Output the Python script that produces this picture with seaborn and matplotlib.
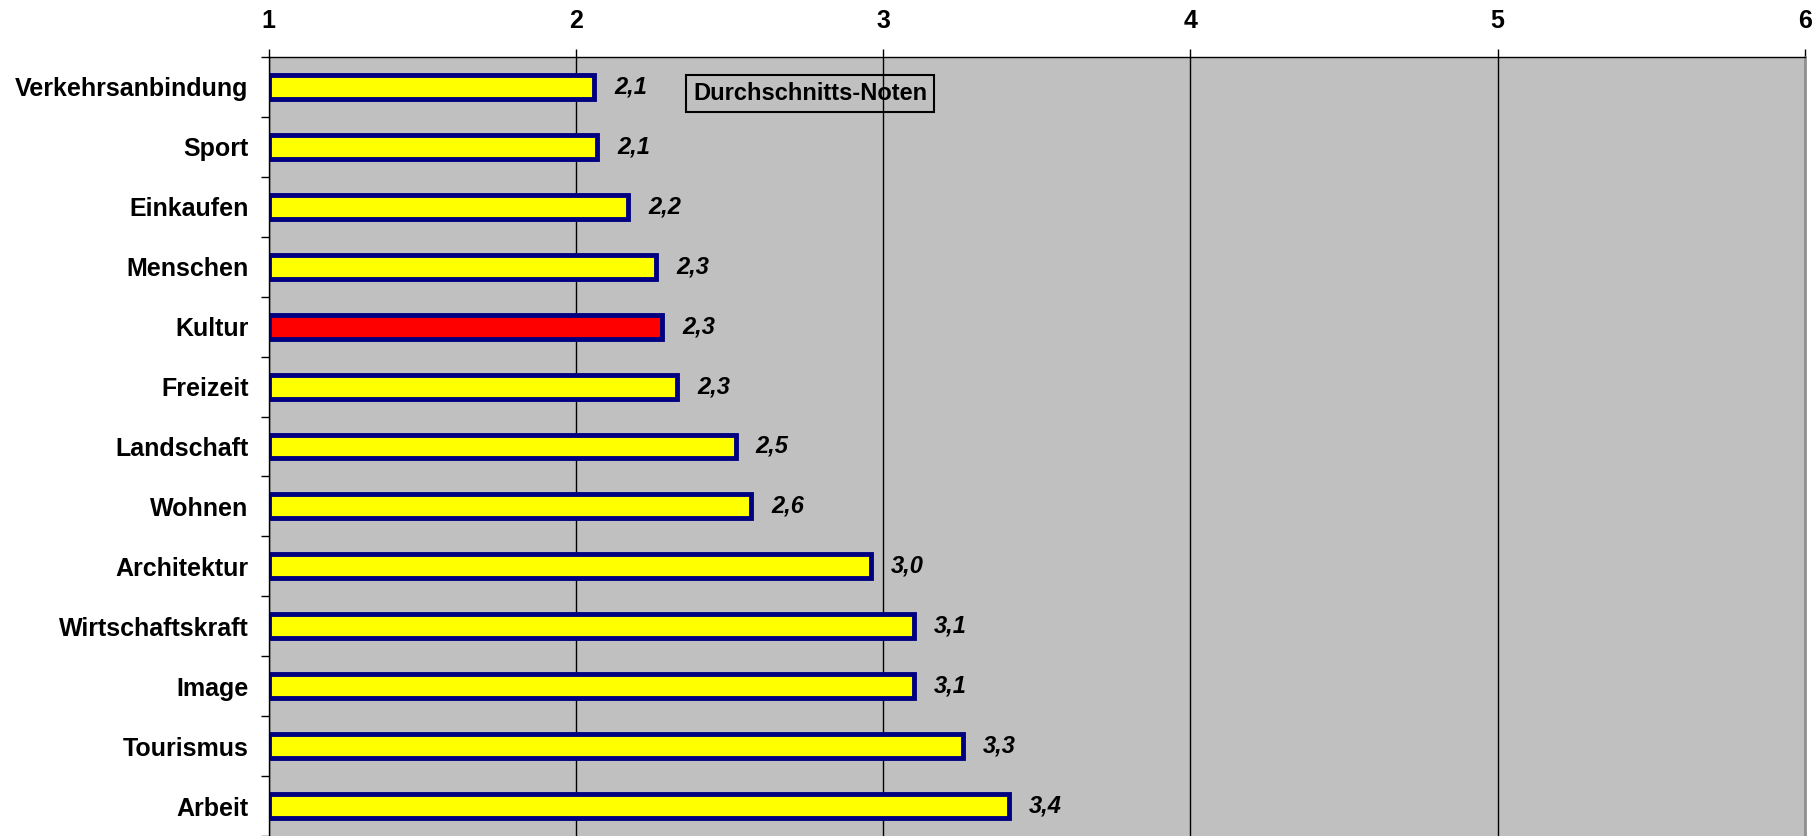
import matplotlib
matplotlib.use("Agg")
import matplotlib.pyplot as plt
import seaborn as sns
import pandas as pd
import numpy as np

# Average grades per category (1 = best, 6 = worst)
categories = ["Verkehrsanbindung", "Sport", "Einkaufen", "Menschen", "Kultur",
              "Freizeit", "Landschaft", "Wohnen", "Architektur",
              "Wirtschaftskraft", "Image", "Tourismus", "Arbeit"]
noten = [2.06, 2.07, 2.17, 2.26, 2.28, 2.33, 2.52, 2.57, 2.96, 3.10, 3.10, 3.26, 3.41]
highlight = "Kultur"
x_ticks = [1, 2, 3, 4, 5, 6]
box_text = "Durchschnitts-Noten"

sns.set_theme(style="white")
plt.rcParams["font.family"] = ["Liberation Sans", "DejaVu Sans"]
plt.rcParams["text.color"] = "black"
plt.rcParams["xtick.color"] = "black"
plt.rcParams["ytick.color"] = "black"
plt.rcParams["xtick.labelcolor"] = "black"
plt.rcParams["ytick.labelcolor"] = "black"

df = pd.DataFrame({"Kategorie": categories, "Note": noten})
palette = {c: ("#FF0000" if c == highlight else "#FFFF00") for c in categories}

W, H = 1815, 836
fig = plt.figure(figsize=(W / 100, H / 100), dpi=100)
left_px, right_px, top_px = 268.6, 1805, 57
ax = fig.add_axes([left_px / W, 0, (right_px - left_px) / W, 1 - top_px / H])
ax.set_facecolor("#C0C0C0")

sns.barplot(data=df, x="Note", y="Kategorie", hue="Kategorie", palette=palette,
            order=categories, orient="h", width=0.4, legend=False,
            edgecolor="#000080", linewidth=3.5, saturation=1, ax=ax, zorder=2)

# bars start at grade 1 (the axis origin)
for p in ax.patches:
    w = p.get_width()
    p.set_x(1)
    p.set_width(w - 1)

ax.set_xlim(1, 6)
ax.set_ylim(len(categories) - 0.5, -0.5)

# value labels
for i, v in enumerate(noten):
    ax.annotate(f"{v:.1f}".replace(".", ","), xy=(v, i), xytext=(14.5, 0),
                textcoords="offset points", ha="left", va="center",
                fontsize=17, fontweight="bold", fontstyle="italic", color="black",
                zorder=5)

# x axis on top
ax.xaxis.tick_top()
ax.xaxis.set_label_position("top")
ax.set_xticks(x_ticks)
ax.set_xticklabels([str(t) for t in x_ticks], fontsize=18, fontweight="bold")
ax.tick_params(axis="x", which="major", top=True, bottom=False, labeltop=True,
               labelbottom=False, length=5.8, width=1, direction="out",
               color="black", pad=11.5)
ax.set_xlabel("")

# y axis: labels centred on bars, ticks between categories
ax.set_yticks(range(len(categories)))
ax.set_yticklabels(categories, fontsize=18, fontweight="bold")
ax.set_yticks(np.arange(-0.5, len(categories), 1), minor=True)
ax.tick_params(axis="y", which="major", length=0, pad=14.4, left=True)
ax.tick_params(axis="y", which="minor", length=5.5, width=1, direction="out",
               color="black", left=True)
ax.set_ylabel("")

ax.set_axisbelow(True)
ax.grid(axis="x", color="black", linewidth=1.0)
ax.grid(axis="y", visible=False)

for side in ["top", "left"]:
    ax.spines[side].set_visible(True)
    ax.spines[side].set_color("black")
    ax.spines[side].set_linewidth(1.0)
ax.spines["bottom"].set_visible(False)
ax.spines["right"].set_visible(True)
ax.spines["right"].set_color("#909090")
ax.spines["right"].set_linewidth(2.0)

ax.text(2.763, 0.11, box_text, ha="center", va="center", fontsize=17,
        fontweight="bold", color="black", zorder=0.3,
        bbox=dict(boxstyle="square,pad=0.3", facecolor="none",
                  edgecolor="black", linewidth=1.5))

fig.savefig("out.png", dpi=100)
